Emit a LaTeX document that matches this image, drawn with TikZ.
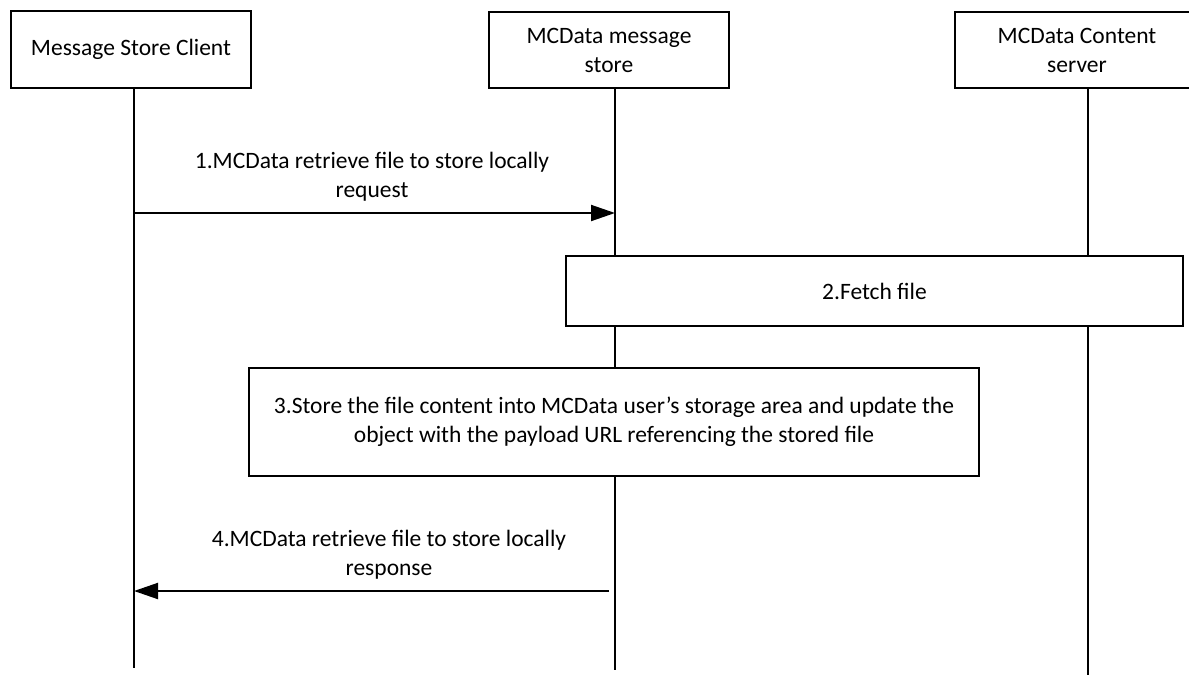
\documentclass[tikz,border=0pt]{standalone}
\usepackage{fontspec}
\setmainfont{Carlito}
\usetikzlibrary{arrows.meta}
\begin{document}
\begin{tikzpicture}[x=1pt,y=-1pt,
  box/.style={draw, line width=1.6pt, inner sep=0pt, align=center, font=\fontsize{23.5}{29}\selectfont},
  life/.style={line width=2pt},
  msg/.style={line width=2pt, -{Triangle[length=24pt,width=16pt]}},
  lbl/.style={align=center, inner sep=0pt, font=\fontsize{23.5}{29}\selectfont}]
\useasboundingbox (0,0) rectangle (1189,675);
% actors
\node[box, minimum width=240pt, minimum height=77pt] (c) at (131,49.5) {Message Store Client};
\node[box, minimum width=240pt, minimum height=76pt] (s) at (609,50) {MCData message\\store};
\node[box, minimum width=244pt, minimum height=76pt] (k) at (1077,50) {MCData Content\\server};
% lifeline ends
\coordinate (ce) at (134,668);
\coordinate (se) at (615,670);
\coordinate (ke) at (1088,675);
\draw[life] (c.south -| ce) -- (ce);
\draw[life] (s.south -| se) -- (se);
\draw[life] (k.south -| ke) -- (ke);
% step boxes
\node[box, fill=white, minimum width=617pt, minimum height=70pt] (f) at (874.5,291) {2.Fetch file};
\node[box, fill=white, minimum width=730pt, minimum height=108pt] (t) at (614,422) {3.Store the file content into MCData user’s storage area and update the\\object with the payload URL referencing the stored file};
% messages
\coordinate (a1) at (134,213);
\coordinate (b1) at (615,213);
\draw[msg] (a1) -- (b1);
\node[lbl] (l1) at (372,177) {1.MCData retrieve file to store locally\\request};
\coordinate (a4) at (609,591);
\coordinate (b4) at (134,591);
\draw[msg] (a4) -- (b4);
\node[lbl] (l4) at (389,555) {4.MCData retrieve file to store locally\\response};
\end{tikzpicture}
\end{document}
